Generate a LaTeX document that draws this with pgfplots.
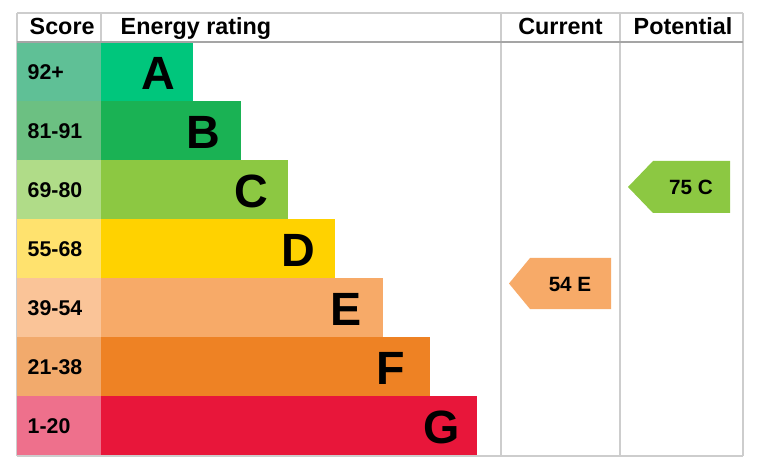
\documentclass[border=0pt]{standalone}
\usepackage{pgfplots}
\pgfplotsset{compat=1.18}
\usepackage{fontspec}
\setmainfont{Liberation Sans}
\definecolor{bA}{RGB}{0,198,124}
\definecolor{bB}{RGB}{26,178,84}
\definecolor{bC}{RGB}{140,200,66}
\definecolor{bD}{RGB}{255,210,0}
\definecolor{bE}{RGB}{247,170,104}
\definecolor{bF}{RGB}{238,130,36}
\definecolor{bG}{RGB}{232,22,58}
\definecolor{sA}{RGB}{95,192,150}
\definecolor{sB}{RGB}{108,192,130}
\definecolor{sC}{RGB}{176,220,136}
\definecolor{sD}{RGB}{255,226,110}
\definecolor{sE}{RGB}{250,196,152}
\definecolor{sF}{RGB}{242,170,108}
\definecolor{sG}{RGB}{238,112,140}
\definecolor{gridc}{RGB}{205,205,205}
\definecolor{hdr}{RGB}{165,165,165}
\tikzset{sc/.style={font=\bfseries\fontsize{16}{16}\selectfont, anchor=west},
  lt/.style={font=\bfseries\fontsize{35}{35}\selectfont, anchor=east},
  hd/.style={font=\bfseries\fontsize{17.5}{17.5}\selectfont},
  ar/.style={font=\bfseries\fontsize{15.5}{15.5}\selectfont}}
\begin{document}
\begin{tikzpicture}
\begin{axis}[
  scale only axis, width=570pt, height=352.5pt,
  xmin=0, xmax=760, ymin=0, ymax=470, y dir=reverse,
  axis lines=none, clip=false,
]
% background
\addplot[fill=white, draw=none] coordinates {(0,0) (760,0) (760,470) (0,470)} -- cycle;
% grid lines
\addplot[color=gridc, line width=1.5pt] coordinates {(17,13) (743,13)};
\addplot[color=gridc, line width=1.5pt] coordinates {(743,13) (743,456)};
\addplot[color=gridc, line width=1.5pt] coordinates {(17,456) (743,456)};
\addplot[color=gridc, line width=1.5pt] coordinates {(17,13) (17,456)};
\addplot[color=gridc, line width=1.5pt] coordinates {(101,13) (101,42)};
\addplot[color=gridc, line width=1.5pt] coordinates {(501,13) (501,456)};
\addplot[color=gridc, line width=1.5pt] coordinates {(620,13) (620,456)};
\addplot[color=hdr, line width=2pt] coordinates {(17,42) (743,42)};
% score column
\addplot[fill=sA, draw=none] coordinates {(17,43) (101,43) (101,101) (17,101)} -- cycle;
\addplot[fill=sB, draw=none] coordinates {(17,101) (101,101) (101,160) (17,160)} -- cycle;
\addplot[fill=sC, draw=none] coordinates {(17,160) (101,160) (101,219) (17,219)} -- cycle;
\addplot[fill=sD, draw=none] coordinates {(17,219) (101,219) (101,278) (17,278)} -- cycle;
\addplot[fill=sE, draw=none] coordinates {(17,278) (101,278) (101,337) (17,337)} -- cycle;
\addplot[fill=sF, draw=none] coordinates {(17,337) (101,337) (101,396) (17,396)} -- cycle;
\addplot[fill=sG, draw=none] coordinates {(17,396) (101,396) (101,455) (17,455)} -- cycle;
% bands
\addplot[fill=bA, draw=none] coordinates {(101,43) (193,43) (193,101) (101,101)} -- cycle;
\addplot[fill=bB, draw=none] coordinates {(101,101) (241,101) (241,160) (101,160)} -- cycle;
\addplot[fill=bC, draw=none] coordinates {(101,160) (288,160) (288,219) (101,219)} -- cycle;
\addplot[fill=bD, draw=none] coordinates {(101,219) (335,219) (335,278) (101,278)} -- cycle;
\addplot[fill=bE, draw=none] coordinates {(101,278) (383,278) (383,337) (101,337)} -- cycle;
\addplot[fill=bF, draw=none] coordinates {(101,337) (430,337) (430,396) (101,396)} -- cycle;
\addplot[fill=bG, draw=none] coordinates {(101,396) (477,396) (477,455) (101,455)} -- cycle;
% arrows
\addplot[fill=bE, draw=none] coordinates {(509,283.5) (530,258) (611,258) (611,309) (530,309)} -- cycle;
\addplot[fill=bC, draw=none] coordinates {(628,187) (653,161) (730,161) (730,213) (653,213)} -- cycle;
% header text
\node[hd, anchor=base west] at (axis cs:25,35) {Score};
\node[hd, anchor=base west] at (axis cs:116,35) {Energy rating};
\node[hd, anchor=base] at (axis cs:560.5,35) {Current};
\node[hd, anchor=base] at (axis cs:683,35) {Potential};
% score text
\node[sc] at (axis cs:23,72) {92+};
\node[sc] at (axis cs:23,131) {81-91};
\node[sc] at (axis cs:23,190) {69-80};
\node[sc] at (axis cs:23,249) {55-68};
\node[sc] at (axis cs:23,308) {39-54};
\node[sc] at (axis cs:23,367) {21-38};
\node[sc] at (axis cs:23,426) {1-20};
% band letters
\node[lt] at (axis cs:180,73) {A};
\node[lt] at (axis cs:225,132) {B};
\node[lt] at (axis cs:273,191) {C};
\node[lt] at (axis cs:320,250) {D};
\node[lt] at (axis cs:366,309) {E};
\node[lt] at (axis cs:410,368) {F};
\node[lt] at (axis cs:465,427) {G};
% arrow text
\node[ar] at (axis cs:570,284) {54 E};
\node[ar] at (axis cs:691,187) {75 C};
\end{axis}
\end{tikzpicture}
\end{document}
